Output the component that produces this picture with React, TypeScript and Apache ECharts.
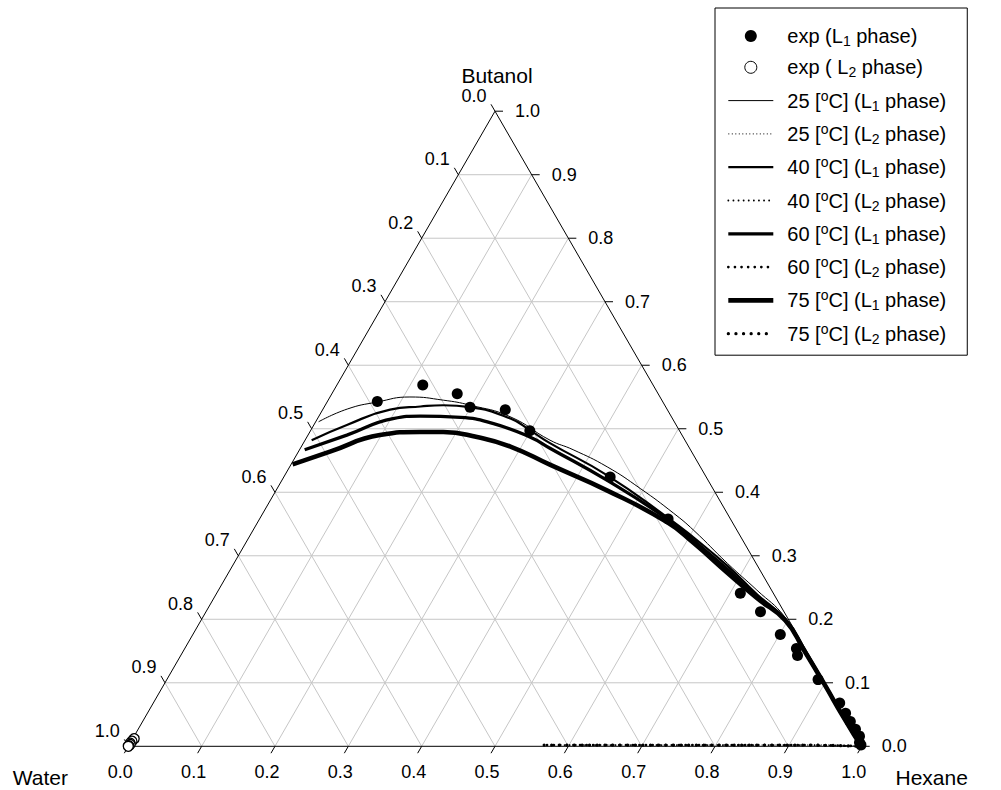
import React, { useEffect, useRef } from 'react';
import * as echarts from 'echarts';

const FONT = "'Liberation Sans', Arial, Helvetica, sans-serif";
const S = Math.sqrt(3) / 2;

// ternary tick values (fractions)
const TICKS = [0, 0.1, 0.2, 0.3, 0.4, 0.5, 0.6, 0.7, 0.8, 0.9, 1.0];
// corner names: [left (water), right (hexane), top (butanol)]
const CORNERS = ['Water', 'Hexane', 'Butanol'];

// all points are [hexane fraction, butanol fraction]
const EXP_L1: number[][] = [
  [0.068, 0.543], [0.117, 0.569], [0.171, 0.555], [0.199, 0.534], [0.249, 0.530],
  [0.299, 0.497], [0.445, 0.424], [0.557, 0.358], [0.714, 0.241], [0.756, 0.212],
  [0.801, 0.176], [0.834, 0.154], [0.841, 0.143], [0.888, 0.105], [0.936, 0.068],
  [0.952, 0.052], [0.965, 0.039], [0.978, 0.027], [0.989, 0.016], [0.994, 0.006],
  [0.998, 0.002],
];
const EXP_L2: number[][] = [
  [0.002, 0.012], [0.001, 0.008], [0.0, 0.005], [0.001, 0.003], [0.0, 0.001], [0.0, 0.0],
];

const L1_25: number[][] = [
  [0.004, 0.511], [0.033, 0.531], [0.068, 0.542], [0.109, 0.550], [0.157, 0.545],
  [0.198, 0.537], [0.261, 0.519], [0.334, 0.482], [0.373, 0.467], [0.433, 0.440],
  [0.495, 0.406], [0.560, 0.367], [0.601, 0.340], [0.673, 0.288], [0.734, 0.246],
  [0.793, 0.204], [0.845, 0.153], [0.901, 0.098], [0.951, 0.048], [0.986, 0.013],
  [1.0, 0.0],
];
const L1_40: number[][] = [
  [0.009, 0.482], [0.045, 0.506], [0.092, 0.530], [0.131, 0.535], [0.161, 0.537],
  [0.199, 0.534], [0.263, 0.516], [0.300, 0.497], [0.337, 0.477], [0.439, 0.427],
  [0.554, 0.361], [0.606, 0.329], [0.675, 0.284], [0.738, 0.239], [0.796, 0.200],
  [0.847, 0.150], [0.901, 0.097], [0.951, 0.047], [0.986, 0.013], [1.0, 0.0],
];
const L1_60: number[][] = [
  [0.007, 0.467], [0.053, 0.490], [0.103, 0.516], [0.138, 0.520], [0.194, 0.518],
  [0.244, 0.508], [0.304, 0.487], [0.341, 0.469], [0.443, 0.419], [0.556, 0.358],
  [0.609, 0.324], [0.677, 0.279], [0.739, 0.236], [0.796, 0.199], [0.847, 0.150],
  [0.901, 0.097], [0.951, 0.047], [0.986, 0.013], [1.0, 0.0],
];
const L1_75: number[][] = [
  [0.002, 0.444], [0.043, 0.464], [0.098, 0.490], [0.150, 0.495], [0.182, 0.495],
  [0.232, 0.487], [0.285, 0.472], [0.354, 0.443], [0.451, 0.403], [0.558, 0.353],
  [0.611, 0.320], [0.679, 0.274], [0.741, 0.233], [0.797, 0.198], [0.847, 0.150],
  [0.901, 0.097], [0.951, 0.047], [0.986, 0.013], [1.0, 0.0],
];
const L2_25: number[][] = [[0.600, 0.002], [0.800, 0.002], [0.950, 0.002], [1.0, 0.0]];
const L2_40: number[][] = [[0.580, 0.002], [0.750, 0.002], [0.900, 0.002], [1.0, 0.0]];
const L2_60: number[][] = [[0.570, 0.002], [0.760, 0.002], [0.920, 0.002], [1.0, 0.0]];
const L2_75: number[][] = [[0.566, 0.002], [0.740, 0.002], [0.910, 0.002], [1.0, 0.0]];

const NAMES = [
  'exp (L1 phase)', 'exp ( L2 phase)',
  '25 [oC] (L1 phase)', '25 [oC] (L2 phase)',
  '40 [oC] (L1 phase)', '40 [oC] (L2 phase)',
  '60 [oC] (L1 phase)', '60 [oC] (L2 phase)',
  '75 [oC] (L1 phase)', '75 [oC] (L2 phase)',
];

const toXY = (p: number[]) => [p[0] + p[1] / 2, p[1] * S];

function legendLabel(name: string): string {
  const m = name.match(/^(.*)L([12])(.*)$/);
  if (!m) return `{f|${name}}`;
  const head = m[1];
  const digit = m[2];
  const tail = m[3];
  const out: string[] = [];
  const k = head.indexOf('[oC]');
  if (k >= 0) {
    out.push(`{f|${head.slice(0, k + 1)}}`, '{sup|o}', `{t|${head.slice(k + 2)}L}`);
  } else {
    out.push(`{f|${head}L}`);
  }
  out.push(`{sub|${digit}}`, `{t|${tail}}`);
  return out.join('');
}

export default function App() {
  const ref = useRef<HTMLDivElement>(null);
  useEffect(() => {
    document.body.style.margin = '0';
    if (!ref.current) return;
    const chart = echarts.init(ref.current, undefined, { renderer: 'svg' });

    const tickFont = { fill: '#000', fontSize: 18, fontFamily: FONT };

    const axisSeries: any = {
      type: 'custom',
      coordinateSystem: 'cartesian2d',
      silent: true,
      clip: false,
      z: 1,
      data: TICKS.map((v) => [v, 0]),
      renderItem: (params: any, api: any) => {
        const v = api.value(0) as number;
        const P = (h: number, b: number) => api.coord(toXY([h, b]));
        const children: any[] = [];
        const ln = (a: number[], b: number[], stroke: string) => ({
          type: 'line',
          shape: { x1: a[0], y1: a[1], x2: b[0], y2: b[1] },
          style: { stroke, lineWidth: 1 },
        });
        if (v > 0.001 && v < 0.999) {
          children.push(ln(P(0, v), P(1 - v, v), '#c6c6c6'));
          children.push(ln(P(v, 0), P(v, 1 - v), '#c6c6c6'));
          children.push(ln(P(1 - v, 0), P(0, 1 - v), '#c6c6c6'));
        }
        const label = v.toFixed(1);
        // left axis: water fraction
        const L = P(0, 1 - v);
        children.push(ln(L, [L[0] - 4, L[1] - 6.9], '#000'));
        children.push({
          type: 'text', x: L[0] - 8.5, y: L[1] - 15.5,
          style: { ...tickFont, text: label, align: 'right', verticalAlign: 'middle' },
        });
        // bottom axis: hexane fraction
        const B = P(v, 0);
        children.push(ln(B, [B[0] - 4, B[1] + 6.9], '#000'));
        children.push({
          type: 'text', x: B[0] - 8, y: B[1] + 26,
          style: { ...tickFont, text: label, align: 'center', verticalAlign: 'middle' },
        });
        // right axis: butanol fraction
        const R = P(1 - v, v);
        children.push(ln(R, [R[0] + 8, R[1]], '#000'));
        children.push({
          type: 'text', x: R[0] + 20, y: R[1],
          style: { ...tickFont, text: label, align: 'left', verticalAlign: 'middle' },
        });
        return { type: 'group', children };
      },
    };

    const frameSeries: any = {
      type: 'custom',
      coordinateSystem: 'cartesian2d',
      silent: true,
      clip: false,
      z: 2,
      data: [[0, 0]],
      renderItem: (params: any, api: any) => {
        const W = api.coord(toXY([0, 0]));
        const H = api.coord(toXY([1, 0]));
        const Bt = api.coord(toXY([0, 1]));
        const titleStyle = { fill: '#000', fontSize: 21, fontFamily: FONT, align: 'center', verticalAlign: 'middle' };
        return {
          type: 'group',
          children: [
            {
              type: 'polygon',
              shape: { points: [W, H, Bt] },
              style: { fill: 'none', stroke: '#000', lineWidth: 1 },
            },
            { type: 'text', x: W[0] - 88, y: W[1] + 31, style: { ...titleStyle, text: CORNERS[0] } },
            { type: 'text', x: H[0] + 70, y: H[1] + 31, style: { ...titleStyle, text: CORNERS[1] } },
            { type: 'text', x: Bt[0] + 2, y: Bt[1] - 36, style: { ...titleStyle, text: CORNERS[2] } },
          ],
        };
      },
    };

    const lineSeries = (name: string, data: number[][], lineStyle: any, z: number) => ({
      name,
      type: 'line',
      data: data.map(toXY),
      symbol: 'none',
      smooth: 0.5,
      clip: false,
      silent: true,
      z,
      lineStyle: { color: '#000', ...lineStyle },
      itemStyle: { color: '#000' },
    });

    const option: any = {
      animation: false,
      backgroundColor: '#fff',
      grid: { left: 128.3, top: 111.2, width: 733.4, height: 635.1 },
      xAxis: { type: 'value', min: 0, max: 1, show: false },
      yAxis: { type: 'value', min: 0, max: S, show: false },
      legend: {
        orient: 'vertical',
        left: 715,
        top: 8,
        padding: [18, 21, 9.5, 11],
        itemWidth: 45,
        itemHeight: 12,
        itemGap: 9.3,
        borderColor: '#000',
        borderWidth: 1,
        backgroundColor: '#fff',
        selectedMode: false,
        lineStyle: { width: 'inherit' },
        formatter: legendLabel,
        textStyle: {
          fontFamily: FONT,
          fontSize: 20,
          color: '#000',
          rich: {
            t: { fontFamily: FONT, fontSize: 20, lineHeight: 24, color: '#000' },
            f: { fontFamily: FONT, fontSize: 20, lineHeight: 24, color: '#000', padding: [0, 0, 0, 9] },
            sub: { fontFamily: FONT, fontSize: 14, lineHeight: 14, color: '#000', verticalAlign: 'bottom' },
            sup: { fontFamily: FONT, fontSize: 14, lineHeight: 14, color: '#000', verticalAlign: 'top' },
          },
        },
        data: NAMES.map((n, i) =>
          i < 2
            ? { name: n, itemStyle: { borderWidth: i === 1 ? 1 : 0, opacity: 1 } }
            : { name: n, itemStyle: { opacity: 0 } }
        ),
      },
      series: [
        axisSeries,
        frameSeries,
        lineSeries(NAMES[2], L1_25, { width: 1 }, 3),
        lineSeries(NAMES[3], L2_25, { width: 1, type: [1, 2.5] }, 3),
        lineSeries(NAMES[4], L1_40, { width: 2.2 }, 3),
        lineSeries(NAMES[5], L2_40, { width: 1.8, type: [0.1, 5], cap: 'round' }, 3),
        lineSeries(NAMES[6], L1_60, { width: 3.3 }, 3),
        lineSeries(NAMES[7], L2_60, { width: 2.6, type: [0.1, 6.5], cap: 'round' }, 3),
        lineSeries(NAMES[8], L1_75, { width: 4.6 }, 3),
        lineSeries(NAMES[9], L2_75, { width: 3.2, type: [0.1, 7.5], cap: 'round' }, 3),
        {
          name: NAMES[0],
          type: 'scatter',
          data: EXP_L1.map(toXY),
          symbol: 'circle',
          symbolSize: 11,
          silent: true,
          clip: false,
          z: 4,
          itemStyle: { color: '#000', opacity: 1 },
        },
        {
          name: NAMES[1],
          type: 'scatter',
          data: EXP_L2.map(toXY),
          symbol: 'circle',
          symbolSize: 10,
          silent: true,
          clip: false,
          z: 4,
          itemStyle: { color: '#fff', borderColor: '#000', borderWidth: 1.3, opacity: 1 },
        },
      ],
    };
    chart.setOption(option);
    return () => chart.dispose();
  }, []);
  return <div ref={ref} style={{ width: 1001, height: 790 }} />;
}
